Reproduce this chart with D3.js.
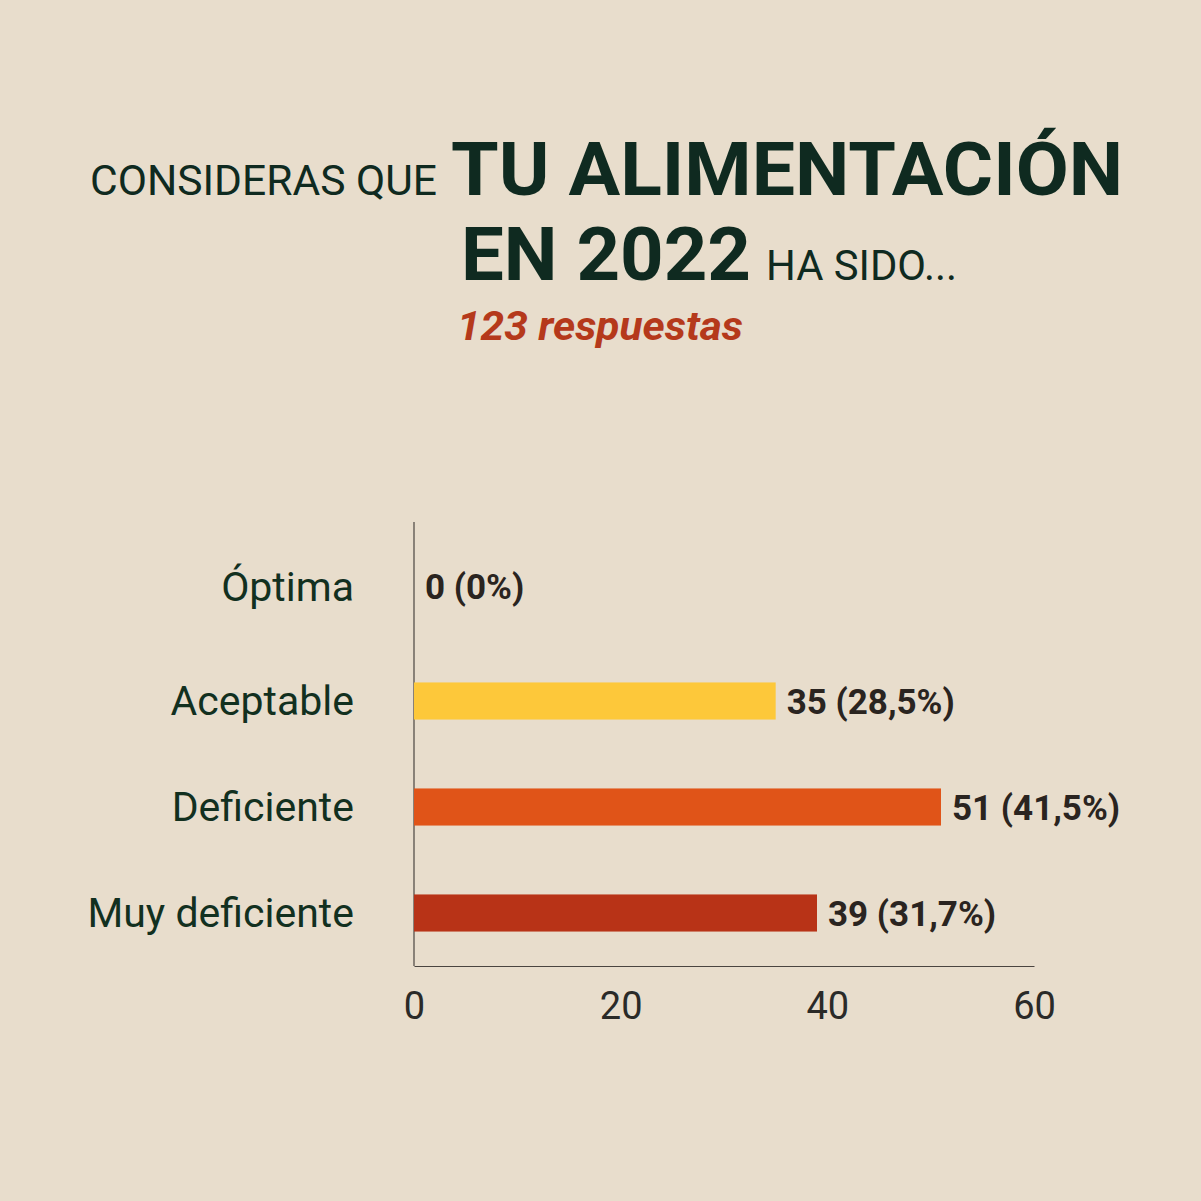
<!DOCTYPE html>
<html>
<head>
<meta charset="utf-8">
<script src="https://cdn.jsdelivr.net/npm/d3@7"></script>
<style>
  html, body { margin: 0; padding: 0; background: #e8ddcc; }
  svg { display: block; font-family: Roboto, "Noto Sans", sans-serif; }
</style>
</head>
<body>
<div id="chart"></div>
<script>
// Data
const categories = ["Óptima", "Aceptable", "Deficiente", "Muy deficiente"];
const counts = [0, 35, 51, 39];
const percents = ["0%", "28,5%", "41,5%", "31,7%"];
const barColors = ["#fdc83a", "#fdc83a", "#e05418", "#b83317"];
const xTicks = [0, 20, 40, 60];
const totalResponses = 123;

const data = categories.map((c, i) => ({
  category: c, count: counts[i], pct: percents[i], color: barColors[i]
}));

const W = 1201, H = 1201;
const svg = d3.select("#chart")
  .append("svg")
  .attr("width", W)
  .attr("height", H);

svg.append("rect")
  .attr("width", W)
  .attr("height", H)
  .attr("fill", "#e8ddcc");

// Title
const dark = "#0f2a20";
svg.append("text")
  .attr("x", 90).attr("y", 195)
  .attr("font-size", 42).attr("fill", dark)
  .attr("textLength", 347).attr("lengthAdjust", "spacingAndGlyphs")
  .text("CONSIDERAS QUE");
svg.append("text")
  .attr("x", 451).attr("y", 195)
  .attr("font-size", 74).attr("font-weight", 700).attr("fill", dark)
  .attr("textLength", 672).attr("lengthAdjust", "spacingAndGlyphs")
  .text("TU ALIMENTACIÓN");
svg.append("text")
  .attr("x", 461).attr("y", 280)
  .attr("font-size", 74).attr("font-weight", 700).attr("fill", dark)
  .attr("textLength", 290).attr("lengthAdjust", "spacingAndGlyphs")
  .text("EN 2022");
svg.append("text")
  .attr("x", 766).attr("y", 280)
  .attr("font-size", 42).attr("fill", dark)
  .attr("textLength", 191).attr("lengthAdjust", "spacingAndGlyphs")
  .text("HA SIDO...");
svg.append("text")
  .attr("x", 457).attr("y", 340)
  .attr("font-size", 40).attr("font-weight", 700).attr("font-style", "italic")
  .attr("fill", "#b5391b")
  .attr("textLength", 286).attr("lengthAdjust", "spacingAndGlyphs")
  .text(`${totalResponses} respuestas`);

// Scales
const x = d3.scaleLinear()
  .domain([0, 60])
  .range([414, 1034]);

const y = d3.scaleBand()
  .domain(categories)
  .range([542, 966])
  .paddingInner(0.65)
  .paddingOuter(0.325);

// Axes lines
svg.append("line")
  .attr("x1", x(0)).attr("x2", x(0))
  .attr("y1", 522).attr("y2", 966)
  .attr("stroke", "#4a4540").attr("stroke-width", 1.2);

const xAxis = svg.append("g")
  .attr("transform", "translate(0,966)")
  .call(d3.axisBottom(x).tickValues(xTicks).tickSize(0).tickPadding(26));
xAxis.select(".domain").attr("stroke", "#4a4540").attr("stroke-width", 1.2);
xAxis.selectAll("text")
  .attr("font-size", 38)
  .attr("fill", "#2a2a28")
  .attr("font-family", "Roboto, sans-serif");

// Bars
svg.selectAll(".bar")
  .data(data)
  .join("rect")
  .attr("class", "bar")
  .attr("x", x(0))
  .attr("y", d => y(d.category))
  .attr("width", d => x(d.count) - x(0))
  .attr("height", y.bandwidth())
  .attr("fill", d => d.color);

// Category labels
svg.selectAll(".cat")
  .data(data)
  .join("text")
  .attr("class", "cat")
  .attr("x", 354)
  .attr("y", d => y(d.category) + y.bandwidth() / 2 + (d.count === 0 ? -8 : 0))
  .attr("dy", "0.35em")
  .attr("text-anchor", "end")
  .attr("font-size", 41)
  .attr("fill", "#12301f")
  .text(d => d.category);

// Value labels
svg.selectAll(".val")
  .data(data)
  .join("text")
  .attr("class", "val")
  .attr("x", d => x(d.count) + 11)
  .attr("y", d => y(d.category) + y.bandwidth() / 2 + (d.count === 0 ? -8 : 1))
  .attr("dy", "0.35em")
  .attr("font-size", 35)
  .attr("font-weight", 700)
  .attr("fill", "#2a2420")
  .text(d => `${d.count} (${d.pct})`);
</script>
</body>
</html>
